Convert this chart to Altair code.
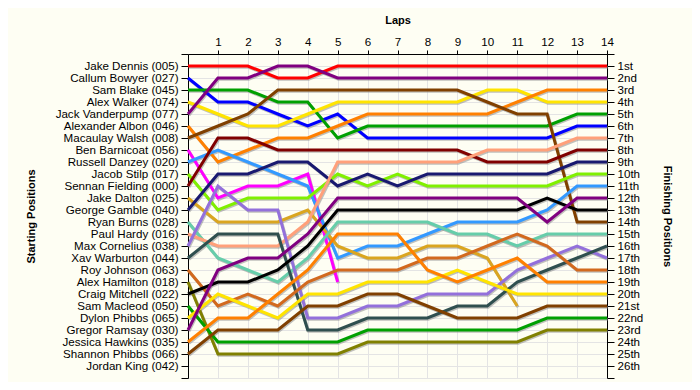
import json
import altair as alt
import pandas as pd

laps = list(range(15))

drivers = [
    "Jake Dennis (005)", "Callum Bowyer (027)", "Sam Blake (045)", "Alex Walker (074)",
    "Jack Vanderpump (077)", "Alexander Albon (046)", "Macaulay Walsh (008)",
    "Ben Barnicoat (056)", "Russell Danzey (020)", "Jacob Stilp (017)",
    "Sennan Fielding (000)", "Jake Dalton (025)", "George Gamble (040)",
    "Ryan Burns (028)", "Paul Hardy (016)", "Max Cornelius (038)",
    "Xav Warburton (044)", "Roy Johnson (063)", "Alex Hamilton (018)",
    "Craig Mitchell (022)", "Sam Macleod (050)", "Dylon Phibbs (065)",
    "Gregor Ramsay (030)", "Jessica Hawkins (035)", "Shannon Phibbs (066)",
    "Jordan King (042)",
]

colors = [
    "#FF0000", "#0000FF", "#00A000", "#FFE400", "#800080", "#FF8000", "#804000",
    "#FF00FF", "#3399FF", "#80F000", "#800000", "#DAA520", "#191970", "#66CDAA",
    "#FFA07A", "#9370DB", "#2F4F4F", "#D2691E", "#808000", "#000000", "#00A000",
    "#FFE400", "#800080", "#FF8000", "#804000",
]

jake_dennis = [1, 1, 1, 2, 2, 1, 1, 1, 1, 1, 1, 1, 1, 1, 1]
callum_bowyer = [2, 4, 4, 5, 6, 5, 7, 7, 7, 7, 7, 7, 7, 6, 6]
sam_blake = [3, 3, 3, 4, 4, 7, 6, 6, 6, 6, 6, 6, 6, 5, 5]
alex_walker = [4, 5, 6, 6, 5, 4, 4, 4, 4, 4, 3, 3, 4, 4, 4]
jack_vanderpump = [5, 2, 2, 1, 1, 2, 2, 2, 2, 2, 2, 2, 2, 2, 2]
alexander_albon = [6, 9, 8, 7, 7, 6, 5, 5, 5, 5, 5, 4, 3, 3, 3]
macaulay_walsh = [7, 6, 5, 3, 3, 3, 3, 3, 3, 3, 4, 5, 5, 14, 14]
ben_barnicoat = [8, 12, 11, 11, 10, 19]
russell_danzey = [9, 8, 9, 10, 11, 17, 16, 16, 15, 14, 14, 14, 13, 11, 11]
jacob_stilp = [10, 13, 12, 12, 12, 10, 11, 10, 11, 11, 11, 11, 11, 10, 10]
sennan_fielding = [11, 7, 7, 8, 8, 8, 8, 8, 8, 8, 9, 9, 9, 8, 8]
jake_dalton = [12, 14, 14, 14, 13, 16, 17, 17, 16, 16, 17, 21]
george_gamble = [13, 10, 10, 9, 9, 11, 10, 11, 10, 10, 10, 10, 10, 9, 9]
ryan_burns = [14, 17, 18, 19, 17, 14, 14, 14, 14, 15, 15, 16, 15, 15, 15]
paul_hardy = [15, 16, 16, 16, 14, 9, 9, 9, 9, 9, 8, 8, 8, 7, 7]
max_cornelius = [16, 11, 13, 13, 22, 22, 21, 21, 20, 20, 20, 18, 17, 16, 17]
xav_warburton = [17, 15, 15, 15, 23, 23, 22, 22, 22, 21, 21, 19, 18, 17, 16]
roy_johnson = [18, 21, 20, 21, 19, 18, 18, 18, 17, 17, 16, 15, 16, 18, 18]
alex_hamilton = [19, 25, 25, 25, 25, 25, 24, 24, 24, 24, 24, 24, 23, 23, 23]
craig_mitchell = [20, 19, 19, 18, 16, 13, 13, 13, 13, 13, 13, 13, 12, 13, 13]
sam_macleod = [21, 24, 24, 24, 24, 24, 23, 23, 23, 23, 23, 23, 22, 22, 22]
dylon_phibbs = [22, 20, 21, 22, 20, 20, 19, 19, 19, 18, 19, 20, 20, 20, 20]
gregor_ramsay = [23, 18, 17, 17, 15, 12, 12, 12, 12, 12, 12, 12, 14, 12, 12]
jessica_hawkins = [24, 22, 22, 20, 18, 15, 15, 15, 18, 19, 18, 17, 19, 19, 19]
shannon_phibbs = [25, 23, 23, 23, 21, 21, 20, 20, 21, 22, 22, 22, 21, 21, 21]

positions = [
    jake_dennis, callum_bowyer, sam_blake, alex_walker, jack_vanderpump,
    alexander_albon, macaulay_walsh, ben_barnicoat, russell_danzey, jacob_stilp,
    sennan_fielding, jake_dalton, george_gamble, ryan_burns, paul_hardy,
    max_cornelius, xav_warburton, roy_johnson, alex_hamilton, craig_mitchell,
    sam_macleod, dylon_phibbs, gregor_ramsay, jessica_hawkins, shannon_phibbs,
]

finish_labels = [
    "1st", "2nd", "3rd", "4th", "5th", "6th", "7th", "8th", "9th", "10th",
    "11th", "12th", "13th", "14th", "15th", "16th", "17th", "18th", "19th",
    "20th", "21st", "22nd", "23rd", "24th", "25th", "26th",
]

rows = []
for i, (name, pos) in enumerate(zip(drivers, positions)):
    for lap, p in zip(laps, pos):
        rows.append({"driver": name, "idx": i, "lap": lap, "pos": p})
df = pd.DataFrame(rows)

FONT = "Liberation Sans"
FS = 11.6
left_expr = json.dumps([""] + drivers + [""]) + "[datum.value]"
right_expr = json.dumps([""] + finish_labels + [""]) + "[datum.value]"
tick_vals = list(range(0, 28))

y_scale = alt.Scale(domain=[0, 27], reverse=True, nice=False, zero=False)
x_scale = alt.Scale(domain=[0, 14], nice=False, zero=False)

color_scale = alt.Scale(domain=drivers[:25], range=colors)

x_axis = alt.Axis(
    orient="top", values=list(range(1, 15)), grid=True, gridColor="#E4E4E4",
    tickSize=4, labelPadding=3, labelFont=FONT, labelFontSize=FS,
    labelColor="#000", labelFlush=False, domainColor="#000", tickColor="#000",
    title="Laps", titleFont=FONT, titleFontSize=11, titleFontWeight="bold",
    titleColor="#000", titleX=209.5, titleY=-31, titleBaseline="alphabetic",
)

shadow = alt.Chart(df).transform_calculate(
    lap_s="datum.lap + 0.03", pos_s="datum.pos + 0.11"
).mark_line(strokeWidth=3, color="#8c8c8c", opacity=0.55, strokeJoin="miter").encode(
    x=alt.X("lap_s:Q", scale=x_scale, axis=x_axis),
    y=alt.Y(
        "pos_s:Q", scale=y_scale,
        axis=alt.Axis(
            orient="right", values=tick_vals, labelExpr=right_expr, grid=False,
            tickSize=7, labelPadding=3, labelOverlap=False, labelFlush=False,
            labelBound=False, labelFont=FONT, labelFontSize=FS, labelColor="#000",
            domainColor="#000", tickColor="#000",
            title="Finishing Positions", titleFont=FONT, titleFontSize=11,
            titleFontWeight="bold", titleColor="#000", titleAngle=90,
            titleX=59, titleY=162, titleBaseline="middle",
        ),
    ),
    detail="driver:N",
    order="lap:Q",
)

lines = alt.Chart(df).mark_line(strokeWidth=3, strokeJoin="miter").encode(
    x=alt.X("lap:Q", scale=x_scale, axis=x_axis),
    y=alt.Y(
        "pos:Q", scale=y_scale,
        axis=alt.Axis(
            orient="left", values=tick_vals, labelExpr=left_expr, grid=True,
            gridColor="#E4E4E4", tickSize=7, labelPadding=3, labelOverlap=False,
            labelFlush=False, labelBound=False, labelFont=FONT, labelFontSize=FS,
            labelColor="#000", domainColor="#000", tickColor="#000",
            title="Starting Positions", titleFont=FONT, titleFontSize=11,
            titleFontWeight="bold", titleColor="#000", titleAngle=-90,
            titleX=-157, titleY=162, titleBaseline="middle",
        ),
    ),
    color=alt.Color("driver:N", scale=color_scale, legend=None),
    detail="driver:N",
    order="lap:Q",
)

chart = alt.layer(shadow, lines).resolve_scale(y="independent").properties(
    width=419,
    height=324,
    padding={"left": 180, "top": 46, "right": 85, "bottom": 4},
    autosize=alt.AutoSizeParams(type="none"),
    background="#FEFEF3",
).configure_view(stroke=None)

chart.save("out.html", embed_options={"renderer": "svg", "actions": False})
